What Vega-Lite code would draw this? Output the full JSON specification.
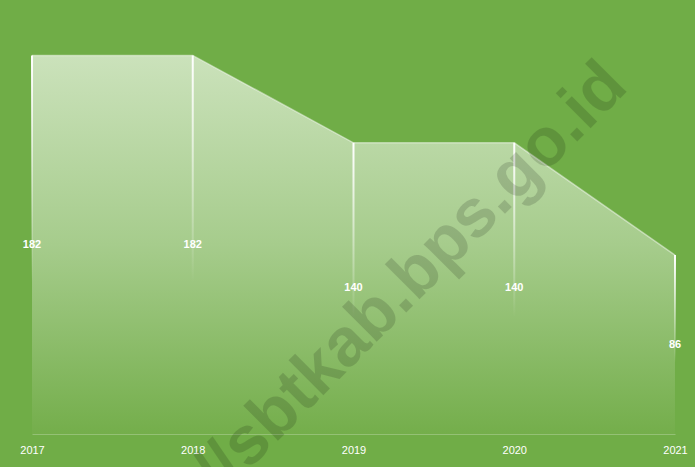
{
  "$schema": "https://vega.github.io/schema/vega-lite/v6.json",
  "width": 643,
  "height": 416,
  "autosize": "none",
  "padding": {"left": 32, "top": 18, "right": 20, "bottom": 33},
  "background": "#70AD47",
  "config": {"view": {"stroke": null}, "axis": {"grid": false}},
  "datasets": {
    "main": [
      {"year": 2017, "value": 182},
      {"year": 2018, "value": 182},
      {"year": 2019, "value": 140},
      {"year": 2020, "value": 140},
      {"year": 2021, "value": 86}
    ],
    "wm": [
      {"year": 2020.72, "value": 166, "label": "https://sbtkab.bps.go.id"}
    ]
  },
  "encoding": {
    "x": {
      "field": "year", "type": "quantitative",
      "scale": {"domain": [2017, 2021], "nice": false, "zero": false, "padding": 0},
      "axis": {
        "title": null, "values": [2017, 2018, 2019, 2020, 2021], "format": "d",
        "ticks": false, "tickSize": 0, "domainColor": "#ffffff", "domainOpacity": 0.25,
        "labelColor": "#ffffff", "labelFont": "Liberation Sans", "labelFontSize": 11,
        "labelPadding": 10, "labelFlush": false, "labelOverlap": false
      }
    }
  },
  "layer": [
    {
      "data": {"name": "main"},
      "mark": {
        "type": "area",
        "fill": {
          "gradient": "linear", "x1": 0, "y1": 0, "x2": 0, "y2": 1,
          "stops": [
            {"offset": 0, "color": "#CBE2BB"},
            {"offset": 0.5, "color": "#A6CC8C"},
            {"offset": 1, "color": "#74AE4B"}
          ]
        }
      },
      "encoding": {
        "y": {
          "field": "value", "type": "quantitative",
          "scale": {"domain": [0, 200], "nice": false},
          "axis": null
        }
      }
    },
    {
      "data": {"name": "main"},
      "mark": {"type": "line", "stroke": "#ffffff", "strokeOpacity": 0.45, "strokeWidth": 1.5},
      "encoding": {
        "y": {"field": "value", "type": "quantitative", "scale": {"domain": [0, 200], "nice": false}, "axis": null}
      }
    },
    {
      "data": {"name": "main"},
      "mark": {
        "type": "bar", "size": 2, "orient": "vertical",
        "fill": {
          "gradient": "linear", "x1": 0, "y1": 0, "x2": 0, "y2": 1,
          "stops": [
            {"offset": 0, "color": "#ffffff"},
            {"offset": 0.6, "color": "rgba(255,255,255,0)"},
            {"offset": 1, "color": "rgba(255,255,255,0)"}
          ]
        }
      },
      "encoding": {
        "y": {"field": "value", "type": "quantitative", "scale": {"domain": [0, 200], "nice": false}, "axis": null}
      }
    },
    {
      "data": {"name": "wm"},
      "mark": {
        "type": "text", "angle": -45, "align": "right", "baseline": "alphabetic",
        "font": "Liberation Sans", "fontWeight": "bold", "fontSize": 68,
        "fill": "#000000", "opacity": 0.14
      },
      "encoding": {
        "y": {"field": "value", "type": "quantitative", "scale": {"domain": [0, 200], "nice": false}, "axis": null},
        "text": {"field": "label"}
      }
    },
    {
      "data": {"name": "main"},
      "mark": {
        "type": "text", "align": "center", "baseline": "middle",
        "font": "Liberation Sans", "fontWeight": "bold", "fontSize": 11, "fill": "#ffffff"
      },
      "encoding": {
        "y": {"field": "value", "type": "quantitative", "scale": {"domain": [0, 400], "nice": false}, "axis": null},
        "text": {"field": "value", "type": "quantitative"}
      }
    }
  ],
  "resolve": {"scale": {"y": "independent"}}
}
